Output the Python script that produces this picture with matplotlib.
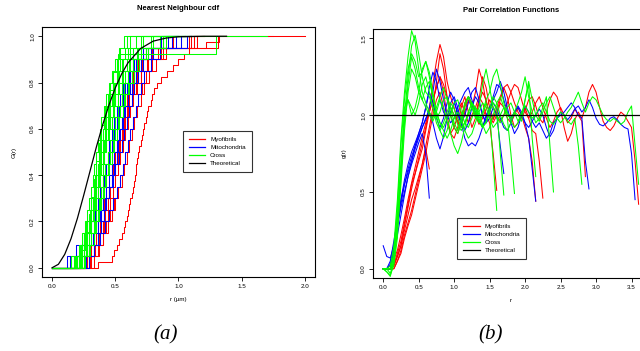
"""
Nearest neighbour cdf (a) and pair correlation functions (b).
"""
import numpy as np
import matplotlib
matplotlib.use("Agg")
import matplotlib.pyplot as plt
from matplotlib.lines import Line2D

RED = "#FF0000"
BLUE = "#0000FF"
GREEN = "#00FF00"

# ---- (a) nearest neighbour distances, one list per image ----
nn_red = [
    [0.36, 0.47, 0.49, 0.51, 0.53, 0.55, 0.57, 0.58, 0.59, 0.60, 0.61, 0.62, 0.63, 0.64,
     0.65, 0.655, 0.66, 0.665, 0.67, 0.68, 0.69, 0.70, 0.71, 0.72, 0.73, 0.74, 0.75, 0.76,
     0.78, 0.79, 0.81, 0.83, 0.86, 0.91, 0.96, 1.00, 1.04, 1.08, 1.22, 1.32],
    [0.28, 0.33, 0.36, 0.39, 0.41, 0.43, 0.45, 0.47, 0.49, 0.51, 0.53, 0.55, 0.57, 0.59, 0.61, 0.64, 0.67, 0.72, 0.80, 1.15],
    [0.30, 0.34, 0.38, 0.41, 0.44, 0.46, 0.48, 0.50, 0.52, 0.54, 0.56, 0.58, 0.60, 0.62, 0.64, 0.67, 0.70, 0.75, 0.84, 1.10],
    [0.26, 0.31, 0.35, 0.38, 0.41, 0.43, 0.45, 0.47, 0.48, 0.50, 0.52, 0.53, 0.55, 0.57, 0.59, 0.62, 0.66, 0.71, 0.79, 1.08],
    [0.33, 0.37, 0.40, 0.43, 0.46, 0.49, 0.52, 0.54, 0.56, 0.58, 0.60, 0.62, 0.64, 0.66, 0.68, 0.71, 0.74, 0.79, 0.88, 1.31],
    [0.29, 0.34, 0.37, 0.40, 0.42, 0.44, 0.46, 0.48, 0.50, 0.52, 0.54, 0.56, 0.58, 0.60, 0.63, 0.66, 0.70, 0.76, 0.86, 1.02],
    [0.31, 0.36, 0.40, 0.44, 0.47, 0.50, 0.52, 0.55, 0.57, 0.59, 0.61, 0.63, 0.65, 0.67, 0.70, 0.73, 0.77, 0.82, 0.90, 1.12],
    [0.25, 0.29, 0.33, 0.36, 0.39, 0.41, 0.43, 0.45, 0.47, 0.49, 0.51, 0.53, 0.55, 0.57, 0.59, 0.61, 0.64, 0.68, 0.74, 0.96],
]
nn_red_rmax = [2.0, 1.75, 1.2, 1.15, 1.35, 1.1, 1.2, 1.05]

nn_blue = [
    [0.14, 0.22, 0.27, 0.31, 0.34, 0.37, 0.39, 0.41, 0.43, 0.45, 0.47, 0.49, 0.51, 0.53, 0.55, 0.58, 0.61, 0.65, 0.72, 0.88],
    [0.26, 0.30, 0.33, 0.36, 0.38, 0.40, 0.43, 0.45, 0.47, 0.49, 0.51, 0.53, 0.55, 0.57, 0.60, 0.62, 0.65, 0.69, 0.76, 0.95],
    [0.20, 0.27, 0.31, 0.35, 0.39, 0.42, 0.45, 0.48, 0.50, 0.53, 0.55, 0.57, 0.59, 0.61, 0.63, 0.65, 0.68, 0.72, 0.80, 0.98],
    [0.29, 0.33, 0.36, 0.39, 0.41, 0.43, 0.45, 0.47, 0.49, 0.51, 0.52, 0.54, 0.56, 0.58, 0.60, 0.63, 0.66, 0.70, 0.78, 1.02],
    [0.12, 0.19, 0.25, 0.30, 0.34, 0.36, 0.38, 0.40, 0.42, 0.44, 0.45, 0.47, 0.49, 0.51, 0.54, 0.56, 0.60, 0.64, 0.70, 0.86],
    [0.27, 0.33, 0.38, 0.42, 0.45, 0.48, 0.51, 0.54, 0.56, 0.58, 0.60, 0.62, 0.64, 0.66, 0.68, 0.70, 0.73, 0.78, 0.85, 1.07],
    [0.22, 0.28, 0.32, 0.35, 0.37, 0.39, 0.41, 0.43, 0.44, 0.46, 0.48, 0.50, 0.52, 0.54, 0.56, 0.59, 0.62, 0.66, 0.74, 0.92],
]
nn_blue_rmax = [1.05, 1.1, 1.1, 1.15, 1.0, 1.1, 1.0]

nn_green = [
    [0.19, 0.22, 0.24, 0.26, 0.28, 0.29, 0.31, 0.32, 0.33, 0.35, 0.36, 0.38, 0.39, 0.41, 0.43, 0.45, 0.47, 0.50, 0.53, 0.57],
    [0.21, 0.24, 0.27, 0.29, 0.30, 0.32, 0.33, 0.35, 0.36, 0.37, 0.39, 0.40, 0.42, 0.44, 0.46, 0.48, 0.51, 0.54, 0.60, 0.66],
    [0.17, 0.23, 0.26, 0.28, 0.31, 0.33, 0.34, 0.36, 0.38, 0.39, 0.41, 0.43, 0.44, 0.46, 0.49, 0.52, 0.55, 0.59, 0.64, 0.72],
    [0.24, 0.27, 0.29, 0.31, 0.33, 0.35, 0.36, 0.38, 0.40, 0.41, 0.43, 0.45, 0.47, 0.49, 0.52, 0.55, 0.58, 0.62, 0.68, 0.78],
    [0.20, 0.25, 0.28, 0.30, 0.32, 0.34, 0.36, 0.37, 0.39, 0.41, 0.42, 0.44, 0.46, 0.48, 0.50, 0.53, 0.56, 0.61, 0.67, 0.85],
    [0.22, 0.26, 0.29, 0.31, 0.33, 0.35, 0.37, 0.39, 0.42, 0.45, 0.48, 0.52, 1.40],
    [0.26, 0.29, 0.31, 0.33, 0.35, 0.37, 0.39, 0.40, 0.42, 0.44, 0.46, 0.48, 0.50, 0.52, 0.55, 0.57, 0.60, 0.64, 0.70, 0.80],
    [0.18, 0.22, 0.25, 0.27, 0.30, 0.31, 0.33, 0.34, 0.36, 0.37, 0.38, 0.40, 0.41, 0.43, 0.44, 0.46, 0.48, 0.51, 0.54, 0.59],
    [0.23, 0.28, 0.31, 0.34, 0.36, 0.38, 0.40, 0.42, 0.44, 0.46, 0.48, 0.50, 0.52, 0.54, 0.57, 0.60, 0.63, 0.67, 0.74, 0.88],
    [0.15, 0.21, 0.25, 0.28, 0.30, 0.32, 0.34, 0.35, 0.37, 0.38, 0.40, 0.42, 0.43, 0.45, 0.47, 0.49, 0.52, 0.56, 0.62, 0.70],
    [0.25, 0.30, 0.33, 0.35, 0.37, 0.39, 0.41, 0.43, 0.45, 0.47, 0.49, 0.51, 0.53, 0.56, 0.58, 0.61, 0.65, 0.69, 0.76, 0.90],
    [0.20, 0.24, 0.27, 0.30, 0.32, 0.34, 0.35, 0.37, 0.38, 0.40, 0.41, 0.43, 0.45, 0.46, 0.48, 0.50, 0.53, 0.55, 0.58, 0.62],
]
nn_green_rmax = [1.1, 1.05, 1.15, 1.7, 1.0, 1.3, 1.1, 0.95, 1.05, 1.2, 1.1, 1.05]

# theoretical (Poisson) cdf
theo_r = [0, 0.05, 0.10, 0.15, 0.20, 0.25, 0.30, 0.35, 0.40, 0.45, 0.50, 0.55, 0.60,
          0.70, 0.80, 0.90, 1.00, 1.20, 1.38]
theo_G = [0, 0.015, 0.058, 0.126, 0.213, 0.313, 0.417, 0.521, 0.617, 0.703, 0.777, 0.837,
          0.885, 0.947, 0.979, 0.992, 0.998, 1.0, 1.0]

# ---- (b) pair correlation estimates, sampled every 0.05 in r ----
R_STEP = 0.05
pcf_red = [
    [0, 0, 0, 0.02, 0.08, 0.15, 0.28, 0.40, 0.52, 0.62, 0.72,
     0.82, 0.92, 1.05, 1.20, 1.35, 1.46, 1.38, 1.22, 1.12, 1.05,
     0.95, 0.92, 1.02, 1.10, 1.05, 1.15, 1.30, 1.22, 1.08, 1.02,
     0.97, 1.05, 1.12, 1.18, 1.20, 1.15, 1.08, 1.02, 0.98, 1.03,
     1.10, 1.12, 1.06, 0.98, 0.95, 1.02, 1.10, 1.15, 1.12, 1.04,
     0.92, 0.83, 0.88, 0.97, 1.02, 0.98, 1.05, 1.15, 1.20, 1.15,
     1.05, 0.96, 0.92, 0.90, 0.93, 0.98, 1.02, 1.00, 0.96, 0.92,
     0.70, 0.42],
    [0, 0, 0, 0, 0.05, 0.12, 0.22, 0.30, 0.38, 0.48, 0.58,
     0.68, 0.80, 0.92, 1.05, 1.22, 1.40, 1.30, 1.12, 1.00, 0.92,
     0.88, 0.95, 1.08, 1.12, 1.05, 1.00, 1.10, 1.25, 1.18, 1.05,
     0.98, 1.02, 1.10, 1.18, 1.12, 1.00, 0.92, 0.95, 1.02, 1.05,
     0.98, 0.90, 0.88, 0.70, 0.46],
    [0, 0, 0, 0.03, 0.10, 0.18, 0.30, 0.42, 0.55, 0.62, 0.70,
     0.78, 0.90, 1.02, 1.10, 1.18, 1.25, 1.15, 1.00, 0.88, 0.85,
     0.92, 1.05, 1.12, 1.02, 0.92, 0.98, 1.08, 1.15, 1.10, 1.00,
     0.95, 1.00, 1.08, 1.05, 0.98, 0.95, 1.00, 1.05, 1.00, 0.92,
     0.85, 0.70, 0.44],
    [0, 0, 0, 0, 0.05, 0.10, 0.20, 0.28, 0.35, 0.45, 0.55,
     0.65, 0.75, 0.88, 1.00, 1.10, 1.15, 1.05, 0.95, 0.88, 0.92,
     1.00, 1.08, 1.02, 0.95, 1.00, 1.05, 1.12, 1.08, 1.00, 0.95,
     0.75, 0.51],
    [0, 0, 0, 0.02, 0.08, 0.15, 0.25, 0.35, 0.45, 0.52, 0.60,
     0.68, 0.78, 0.65],
    [0, 0, 0.02, 0.06, 0.12, 0.22, 0.33, 0.45, 0.56, 0.66, 0.76,
     0.86, 0.95, 1.02, 1.10, 1.18, 1.25, 1.20, 1.12, 1.05, 1.00,
     0.96, 1.00, 1.06, 1.12, 1.08, 1.00, 0.94, 0.98, 1.04, 1.10,
     1.05, 1.00, 0.96, 1.00, 1.08, 1.15, 1.20, 1.18, 1.10, 1.02,
     0.98, 1.02, 1.08, 1.12, 1.05, 0.98, 0.92, 0.96, 1.02, 1.05,
     1.00, 0.95, 0.98, 1.04, 1.00, 0.96, 0.60],
]
pcf_blue = [
    [0.15, 0.08, 0.07, 0.15, 0.30, 0.45, 0.58, 0.68, 0.76, 0.82, 0.88,
     0.95, 1.05, 1.18, 1.28, 1.22, 1.10, 1.02, 0.98, 1.02, 1.08,
     1.02, 0.95, 0.90, 0.95, 1.05, 1.12, 1.08, 1.00, 0.95, 1.02,
     1.12, 1.20, 1.18, 1.10, 1.02, 0.98, 1.02, 1.05, 1.00, 0.95,
     0.92, 0.96, 1.00, 1.04, 1.00, 0.92, 0.86, 0.90, 0.98, 1.02,
     1.00, 0.97, 1.00, 1.04, 1.06, 1.02, 1.05, 1.10, 1.05, 0.98,
     0.94, 0.93, 0.95, 0.98, 0.99, 0.97, 0.94, 0.92, 0.91, 0.75,
     0.45],
    [0, 0, 0.05, 0.18, 0.32, 0.45, 0.55, 0.63, 0.70, 0.78, 0.85,
     0.92, 0.98, 1.02, 0.95, 0.85, 0.78, 0.86, 0.98, 1.08, 1.12,
     1.05, 0.95, 0.85, 0.80, 0.82, 0.80, 0.85, 0.92, 1.00, 1.05,
     1.10, 1.15, 1.22, 1.15, 1.05, 0.95, 0.88, 0.92, 1.00, 1.06,
     1.02, 0.96, 0.92, 0.95, 0.90, 0.85, 0.88, 0.95, 0.98, 1.00,
     1.02, 1.05, 1.08, 1.05, 1.00, 0.98, 0.70, 0.52],
    [0, 0, 0, 0.10, 0.22, 0.35, 0.48, 0.60, 0.70, 0.80, 0.88,
     0.95, 1.05, 1.15, 1.08, 0.98, 0.92, 0.98, 1.08, 1.15, 1.10,
     1.00, 0.95, 1.00, 1.08, 1.15, 1.18, 1.10, 1.00, 0.95, 0.98,
     1.05, 1.00, 0.80, 0.62],
    [0, 0, 0.03, 0.15, 0.28, 0.40, 0.50, 0.60, 0.68, 0.75, 0.82,
     0.88, 0.75, 0.46],
    [0, 0, 0, 0.12, 0.28, 0.42, 0.55, 0.65, 0.73, 0.80, 0.86,
     0.92, 0.97, 1.05, 1.15, 1.30, 1.22, 1.10, 1.00, 0.95, 0.98,
     1.05, 1.10, 1.15, 1.18, 1.10, 1.02, 0.96, 0.92, 0.98, 1.05,
     1.08, 1.04, 0.98, 0.92, 0.90, 0.95, 1.02, 1.06, 1.02, 0.95,
     0.85, 0.65, 0.44],
]
pcf_green = [
    [0, -0.02, -0.05, 0.05, 0.30, 0.65, 1.00, 1.25, 1.45, 1.52, 1.40,
     1.25, 1.15, 1.12, 1.05, 0.98, 1.02, 1.10, 1.12, 1.05, 0.95,
     0.90, 0.98, 1.08, 1.12, 1.05, 0.98, 1.05, 1.20, 1.30, 1.18,
     1.05, 0.98, 0.95, 1.00, 1.05, 1.08, 1.02, 0.96, 1.00, 1.10,
     1.22, 1.10, 1.00, 0.96, 1.02, 1.08, 1.12, 1.05, 0.98, 0.95,
     0.98, 1.02, 1.05, 1.10, 1.15, 1.08, 1.02, 1.08, 1.12, 1.10,
     1.05, 1.00, 0.97, 0.96, 0.98, 0.96, 0.94, 0.96, 1.02, 1.06,
     0.80, 0.55],
    [0, 0, 0.02, 0.15, 0.45, 0.85, 1.15, 1.38, 1.55, 1.48, 1.30,
     1.15, 1.08, 1.02, 0.98, 1.05, 1.12, 1.18, 1.10, 1.00, 0.92,
     0.88, 0.95, 1.05, 1.12, 1.08, 1.00, 0.95, 1.00, 1.08, 1.02,
     0.70, 0.38],
    [0, 0, 0, 0.10, 0.40, 0.80, 1.10, 1.30, 1.40, 1.35, 1.25,
     1.28, 1.35, 1.25, 1.12, 1.02, 0.95, 0.92, 0.98, 1.05, 1.00,
     0.94, 0.90, 0.95, 1.02, 1.08, 1.05, 0.98, 0.92, 0.95, 1.02,
     1.08, 1.05, 0.75, 0.48],
    [0, 0, -0.03, 0.05, 0.25, 0.55, 0.90, 1.15, 1.30, 1.25, 1.15,
     1.10, 1.18, 1.22, 1.12, 1.00, 0.90, 0.85, 0.90, 1.00, 1.08,
     1.10, 1.02, 0.95, 0.92, 0.98, 1.05, 1.02, 0.94, 0.88, 0.92,
     1.00, 1.08, 1.12, 1.05, 0.98, 0.75, 0.49],
    [0, 0, 0, 0.08, 0.35, 0.70, 1.00, 1.10, 1.05, 1.00, 1.08,
     1.20, 1.25, 1.15, 1.05, 0.95, 0.90, 0.95, 1.02, 1.08, 1.04,
     0.98, 0.92, 0.95, 1.00, 1.05, 1.02, 0.96, 0.92, 0.96, 1.04,
     1.12, 1.08, 1.00, 0.94, 0.90, 0.95, 1.02, 1.08, 1.15, 1.25,
     1.12, 1.02, 0.95, 0.98, 1.05, 1.12, 0.80, 0.50],
    [0, -0.02, -0.04, 0.02, 0.20, 0.60, 1.05, 1.10, 1.00, 1.05, 1.15,
     1.30, 1.35, 1.28, 1.15, 1.02, 0.95, 0.90, 0.85, 0.90, 0.98,
     1.02, 0.98, 0.90, 0.85, 0.88, 0.95, 1.02, 1.08, 1.05, 0.98,
     0.92, 0.95, 1.00, 1.05, 1.02, 0.96, 0.92, 0.95, 1.02, 1.06,
     1.02, 0.98, 1.00, 1.05, 1.08, 1.02, 0.96, 0.94, 0.98, 1.02,
     1.00, 0.96, 0.94, 0.98, 0.80, 0.55],
    [0, 0, 0, 0.05, 0.30, 0.62, 0.95, 1.20, 1.38, 1.30, 1.18,
     1.10, 1.05, 1.00, 0.96, 1.02, 1.10, 1.05, 0.96, 0.88, 0.80,
     0.75, 0.82, 0.92, 1.02, 1.08, 1.04, 0.98, 1.02, 1.10, 1.15,
     1.25, 1.30, 1.20, 1.08, 1.00, 0.98, 1.02, 1.00, 0.96, 1.10,
     1.20, 0.85, 0.60],
]

LEGEND_LABELS = ["Myofibrils", "Mitochondria", "Cross", "Theoretical"]


def plot_ecdf(ax, dists, rmax, color):
    d = np.sort(np.asarray(dists))
    n = len(d)
    x = np.concatenate([[0.0], d, [rmax]])
    y = np.concatenate([[0.0], np.arange(1, n + 1) / n, [1.0]])
    keep = x <= rmax
    x, y = x[keep], y[keep]
    if x[-1] < rmax:
        x = np.append(x, rmax)
        y = np.append(y, y[-1])
    ax.plot(x, y, drawstyle="steps-post", color=color, lw=0.75)


def style_axes(ax):
    for s in ax.spines.values():
        s.set_linewidth(0.8)
    ax.tick_params(labelsize=4.5, length=3, width=0.6, pad=2)
    for lab in ax.get_yticklabels():
        lab.set_rotation(90)
        lab.set_va("center")


def add_legend(ax, anchor):
    handles = [Line2D([], [], color=c, lw=0.9) for c in (RED, BLUE, GREEN, "black")]
    leg = ax.legend(handles, LEGEND_LABELS, loc="upper left", bbox_to_anchor=anchor,
                    fontsize=4.5, frameon=True, fancybox=False, handlelength=2.6,
                    borderpad=1.0, labelspacing=0.4, handletextpad=0.8,
                    borderaxespad=0)
    leg.get_frame().set_edgecolor("black")
    leg.get_frame().set_linewidth(0.8)


fig = plt.figure(figsize=(6.4, 3.51), dpi=100)
plt.rcParams["font.family"] = ["Liberation Sans", "DejaVu Sans"]

# ---- (a) ----
ax1 = fig.add_axes([0.0656, 0.2108, 0.4266, 0.7123])
for dists, rmax in zip(nn_red, nn_red_rmax):
    plot_ecdf(ax1, dists, rmax, RED)
for dists, rmax in zip(nn_blue, nn_blue_rmax):
    plot_ecdf(ax1, dists, rmax, BLUE)
for dists, rmax in zip(nn_green, nn_green_rmax):
    plot_ecdf(ax1, dists, rmax, GREEN)
ax1.plot(theo_r, theo_G, color="black", lw=0.9)
ax1.set_xlim(-0.08, 2.08)
ax1.set_ylim(-0.04, 1.04)
ax1.set_xticks([0.0, 0.5, 1.0, 1.5, 2.0])
ax1.set_yticks([0.0, 0.2, 0.4, 0.6, 0.8, 1.0])
ax1.set_title("Nearest Neighbour cdf", fontsize=5.5, fontweight="bold", pad=12)
ax1.set_xlabel("r (µm)", fontsize=4.5, labelpad=6)
ax1.set_ylabel("G(r)", fontsize=4.5, labelpad=10)
style_axes(ax1)
add_legend(ax1, (0.515, 0.585))

# ---- (b) ----
ax2 = fig.add_axes([0.5828, 0.208, 0.431, 0.709])
for group, color in ((pcf_red, RED), (pcf_blue, BLUE), (pcf_green, GREEN)):
    for vals in group:
        r = R_STEP * np.arange(len(vals))
        ax2.plot(r, vals, color=color, lw=0.75)
ax2.axhline(1.0, color="black", lw=0.9, xmin=0.0, xmax=1.0)
ax2.set_xlim(-0.144, 3.744)
ax2.set_ylim(-0.06, 1.56)
ax2.set_xticks([0.0, 0.5, 1.0, 1.5, 2.0, 2.5, 3.0, 3.5])
ax2.set_yticks([0.0, 0.5, 1.0, 1.5])
ax2.set_title("Pair Correlation Functions", fontsize=5.5, fontweight="bold", pad=12)
ax2.set_xlabel("r", fontsize=4.5, labelpad=6)
ax2.set_ylabel("g(r)", fontsize=4.5, labelpad=10)
style_axes(ax2)
add_legend(ax2, (0.305, 0.243))

fig.text(0.258, 0.045, "(a)", fontsize=15, style="italic", family="Liberation Serif",
         ha="center", va="center")
fig.text(0.766, 0.045, "(b)", fontsize=15, style="italic", family="Liberation Serif",
         ha="center", va="center")

fig.savefig("out.png", dpi=100)
